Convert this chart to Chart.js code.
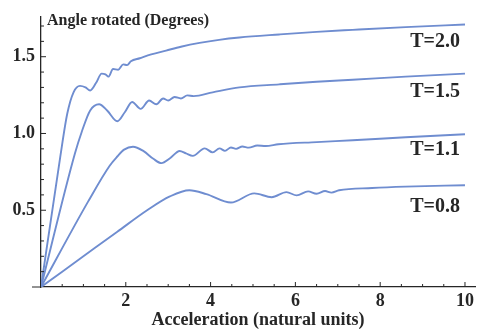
<!doctype html>
<html lang="en">
  <head>
    <meta charset="UTF-8" />
    <title>Angle rotated vs acceleration</title>
    <style>
      body {
        margin: 0;
        background: white;
      }
      #chart {
        display: block;
      }
    </style>
  </head>
  <body>
    <canvas id="chart" width="478" height="329"></canvas>

    <script src="https://cdn.jsdelivr.net/npm/chart.js"></script>
    <script>
      // curve labels (temperature)
      var curveNames = ["T=2.0", "T=1.5", "T=1.1", "T=0.8"];

      // values
      var t20X = [0, 0.45, 0.62, 0.77, 0.92, 1.05, 1.16, 1.30, 1.43, 1.52, 1.59, 1.70, 1.82, 1.94, 2.03, 2.12, 2.33, 2.6, 2.95, 3.3, 3.74, 4.2, 4.68, 5.62, 6.5, 7.35, 8.6, 10];
      var t20Y = [0, 0.84, 1.13, 1.27, 1.31, 1.30, 1.28, 1.33, 1.39, 1.385, 1.37, 1.42, 1.415, 1.45, 1.445, 1.47, 1.49, 1.515, 1.54, 1.565, 1.59, 1.61, 1.625, 1.645, 1.662, 1.675, 1.693, 1.71];

      var t15X = [0, 0.80, 0.96, 1.16, 1.37, 1.56, 1.80, 1.98, 2.15, 2.35, 2.55, 2.72, 2.88, 3.0, 3.15, 3.3, 3.45, 3.6, 4.05, 4.68, 5.62, 6.5, 7.35, 8.6, 10];
      var t15Y = [0, 0.87, 1.01, 1.15, 1.19, 1.15, 1.08, 1.14, 1.205, 1.16, 1.215, 1.19, 1.228, 1.215, 1.238, 1.228, 1.248, 1.243, 1.268, 1.30, 1.32, 1.337, 1.35, 1.37, 1.39];

      var t11X = [0, 1.11, 1.62, 1.80, 1.96, 2.17, 2.42, 2.65, 2.84, 3.05, 3.27, 3.42, 3.58, 3.86, 4.05, 4.21, 4.34, 4.48, 4.6, 4.75, 4.9, 5.1, 5.3, 5.6, 6.5, 7.35, 8.6, 10];
      var t11Y = [0, 0.556, 0.79, 0.85, 0.895, 0.914, 0.885, 0.835, 0.807, 0.84, 0.886, 0.87, 0.854, 0.903, 0.877, 0.903, 0.887, 0.909, 0.9, 0.915, 0.908, 0.922, 0.918, 0.93, 0.944, 0.956, 0.975, 0.995];

      var t08X = [0, 1.0, 1.8, 2.52, 3.04, 3.5, 3.9, 4.48, 5.03, 5.44, 5.79, 6.03, 6.3, 6.5, 6.7, 6.85, 7.03, 7.81, 8.59, 10];
      var t08Y = [0, 0.2, 0.36, 0.503, 0.59, 0.63, 0.605, 0.55, 0.61, 0.585, 0.618, 0.597, 0.623, 0.607, 0.625, 0.615, 0.63, 0.645, 0.654, 0.663];

      var xTicks = [2, 4, 6, 8, 10];
      var yTicks = [0.5, 1.0, 1.5];

      var lineColor = "#6f8dd0";
      var inkColor = "#262626";
      var serif = "'Liberation Serif', 'DejaVu Serif', serif";

      function toPoints(xs, ys) {
        return xs.map(function (x, i) {
          return { x: x, y: ys[i] };
        });
      }

      var curves = [
        toPoints(t20X, t20Y),
        toPoints(t15X, t15Y),
        toPoints(t11X, t11Y),
        toPoints(t08X, t08Y)
      ];

      var datasets = curves.map(function (pts, i) {
        return {
          label: curveNames[i],
          data: pts,
          borderColor: lineColor,
          borderWidth: 1.9,
          pointRadius: 0,
          cubicInterpolationMode: "monotone",
          fill: false
        };
      });

      // ticks inside the frame, the small stub left of x=0, and the texts
      var decor = {
        id: "decor",
        afterDraw: function (chart) {
          var c = chart.ctx;
          var xs = chart.scales.x;
          var ys = chart.scales.y;
          var x0 = xs.getPixelForValue(0);
          var y0 = ys.getPixelForValue(0);
          c.save();
          c.strokeStyle = inkColor;
          c.lineWidth = 1;

          // stub of the x axis left of the y axis
          c.beginPath();
          c.moveTo(x0 - 9, y0);
          c.lineTo(x0, y0);
          c.stroke();

          // y ticks
          for (var k = 1; k <= 17; k++) {
            var py = ys.getPixelForValue(k / 10);
            var len = k % 5 === 0 ? 5 : 3;
            c.beginPath();
            c.moveTo(x0, py);
            c.lineTo(x0 + len, py);
            c.stroke();
          }
          // x ticks
          for (var j = 1; j <= 20; j++) {
            var px = xs.getPixelForValue(j / 2);
            var l2 = j % 4 === 0 ? 5 : 3;
            c.beginPath();
            c.moveTo(px, y0);
            c.lineTo(px, y0 - l2);
            c.stroke();
          }

          // curve names, under the right end of each curve
          var dy = [17, 18, 16, 22];
          c.fillStyle = inkColor;
          c.font = "bold 20px " + serif;
          c.textAlign = "right";
          c.textBaseline = "middle";
          chart.data.datasets.forEach(function (ds, i) {
            var last = ds.data[ds.data.length - 1];
            c.fillText(ds.label, 460, ys.getPixelForValue(last.y) + dy[i]);
          });

          // y axis title, horizontal at the top
          c.font = "bold 16px " + serif;
          c.textAlign = "left";
          c.fillText("Angle rotated (Degrees)", x0 + 6, 21);
          c.restore();
        }
      };

      var ctx = document.getElementById("chart").getContext("2d");
      var myChart = new Chart(ctx, {
        type: "line",
        data: { datasets: datasets },
        options: {
          responsive: false,
          animation: false,
          layout: { padding: { top: 12, right: 1, left: 0, bottom: 0 } },
          plugins: {
            legend: { display: false },
            tooltip: { enabled: false }
          },
          scales: {
            x: {
              type: "linear",
              min: 0,
              max: 10.24,
              afterFit: function (s) {
                s.height = 42;
              },
              afterBuildTicks: function (s) {
                s.ticks = xTicks.map(function (v) {
                  return { value: v };
                });
              },
              grid: { display: false, drawTicks: false },
              border: { color: inkColor, width: 1.3 },
              ticks: {
                color: inkColor,
                padding: 4,
                maxRotation: 0,
                font: { family: serif, size: 18, weight: "bold" },
                callback: function (v) {
                  return String(v);
                }
              },
              title: {
                display: true,
                text: "Acceleration (natural units)",
                color: inkColor,
                padding: 0,
                font: { family: serif, size: 18, weight: "bold", lineHeight: 1 }
              }
            },
            y: {
              type: "linear",
              min: 0,
              max: 1.76,
              afterFit: function (s) {
                s.width = 41;
              },
              afterBuildTicks: function (s) {
                s.ticks = yTicks.map(function (v) {
                  return { value: v };
                });
              },
              grid: { display: false, drawTicks: false },
              border: { color: inkColor, width: 1.3 },
              ticks: {
                color: inkColor,
                padding: 6,
                font: { family: serif, size: 18, weight: "bold" },
                callback: function (v) {
                  return v.toFixed(1);
                }
              }
            }
          }
        },
        plugins: [decor]
      });
    </script>
  </body>
</html>
